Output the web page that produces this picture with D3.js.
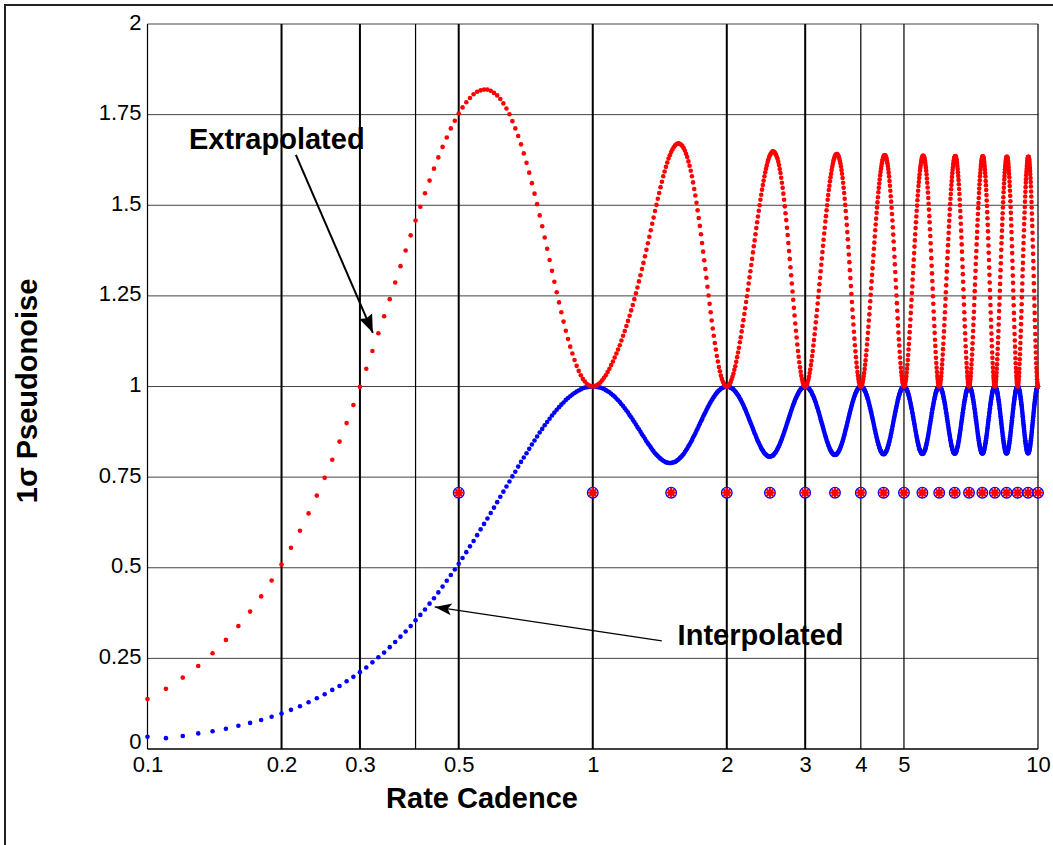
<!DOCTYPE html>
<html>
<head>
<meta charset="utf-8">
<script src="https://cdn.jsdelivr.net/npm/d3@7"></script>
<style>
  html, body { margin: 0; padding: 0; background: #fff; }
  svg { display: block; }
  text { font-family: "Liberation Sans", Arial, Helvetica, sans-serif; }
</style>
</head>
<body>
<svg id="chart" width="1053" height="845"></svg>
<script>
// ---- axis ticks ----
const yTicks = [0, 0.25, 0.5, 0.75, 1, 1.25, 1.5, 1.75, 2];
const yTickLabels = ["0", "0.25", "0.5", "0.75", "1", "1.25", "1.5", "1.75", "2"];
const xTicks = [0.1, 0.2, 0.3, 0.5, 1, 2, 3, 4, 5, 10];
const xTickLabels = ["0.1", "0.2", "0.3", "0.5", "1", "2", "3", "4", "5", "10"];
const xGridValues = [0.2, 0.3, 0.4, 0.5, 1, 2, 3, 4, 5, 10];

// ---- sampling of the rate cadence axis ----
const cadenceStep = 0.01;

// ---- interpolated pseudonoise, cadence 0.10 .. 0.99 ----
const interp_0_1 = [
  0.034, 0.030, 0.036, 0.043, 0.049, 0.056, 0.064, 0.072, 0.080, 0.089,
  0.098, 0.108, 0.118, 0.129, 0.140, 0.151, 0.163, 0.174, 0.187, 0.199,
  0.212, 0.225, 0.239, 0.253, 0.266, 0.281, 0.295, 0.310, 0.324, 0.339,
  0.355, 0.370, 0.385, 0.401, 0.416, 0.432, 0.448, 0.464, 0.480, 0.495,
  0.511, 0.527, 0.543, 0.559, 0.574, 0.590, 0.606, 0.621, 0.636, 0.651,
  0.666, 0.681, 0.696, 0.710, 0.724, 0.738, 0.752, 0.765, 0.779, 0.792,
  0.804, 0.816, 0.828, 0.840, 0.851, 0.862, 0.873, 0.883, 0.893, 0.902,
  0.911, 0.920, 0.928, 0.936, 0.943, 0.950, 0.956, 0.963, 0.968, 0.973,
  0.978, 0.982, 0.986, 0.989, 0.992, 0.995, 0.997, 0.998, 0.999, 1.000
];
// ---- extrapolated pseudonoise, cadence 0.10 .. 0.99 ----
const extrap_0_1 = [
  0.138, 0.166, 0.197, 0.229, 0.264, 0.301, 0.339, 0.379, 0.421, 0.465,
  0.509, 0.555, 0.602, 0.650, 0.699, 0.748, 0.798, 0.848, 0.899, 0.949,
  0.999, 1.049, 1.098, 1.147, 1.194, 1.241, 1.287, 1.332, 1.375, 1.417,
  1.458, 1.496, 1.533, 1.568, 1.601, 1.632, 1.661, 1.687, 1.712, 1.733,
  1.753, 1.770, 1.784, 1.796, 1.806, 1.813, 1.817, 1.819, 1.819, 1.816,
  1.810, 1.803, 1.793, 1.781, 1.767, 1.751, 1.732, 1.712, 1.691, 1.668,
  1.643, 1.617, 1.590, 1.561, 1.532, 1.503, 1.472, 1.442, 1.411, 1.380,
  1.349, 1.319, 1.289, 1.260, 1.232, 1.205, 1.179, 1.154, 1.131, 1.110,
  1.091, 1.073, 1.057, 1.043, 1.031, 1.021, 1.014, 1.007, 1.003, 1.001
];

// ---- cadence 1.00 .. 1.99 ----
const extrap_1_2 = [
  1.000, 1.001, 1.003, 1.007, 1.011, 1.017, 1.024, 1.031, 1.040, 1.049,
  1.059, 1.069, 1.080, 1.091, 1.102, 1.114, 1.127, 1.140, 1.153, 1.167,
  1.181, 1.195, 1.210, 1.225, 1.241, 1.257, 1.273, 1.290, 1.307, 1.324,
  1.341, 1.359, 1.377, 1.395, 1.413, 1.431, 1.449, 1.466, 1.484, 1.501,
  1.518, 1.534, 1.550, 1.565, 1.580, 1.593, 1.606, 1.618, 1.629, 1.638,
  1.647, 1.654, 1.660, 1.665, 1.668, 1.670, 1.671, 1.669, 1.667, 1.663,
  1.658, 1.651, 1.642, 1.633, 1.621, 1.609, 1.595, 1.580, 1.563, 1.545,
  1.527, 1.507, 1.486, 1.465, 1.443, 1.420, 1.396, 1.372, 1.348, 1.324,
  1.300, 1.275, 1.251, 1.228, 1.205, 1.182, 1.160, 1.140, 1.120, 1.102,
  1.084, 1.069, 1.054, 1.042, 1.030, 1.021, 1.013, 1.008, 1.003, 1.001
];
const interp_1_2 = [
  1.000, 1.000, 0.999, 0.998, 0.997, 0.995, 0.993, 0.990, 0.987, 0.984,
  0.980, 0.976, 0.972, 0.967, 0.962, 0.957, 0.951, 0.946, 0.940, 0.934,
  0.928, 0.921, 0.915, 0.908, 0.902, 0.895, 0.888, 0.882, 0.875, 0.868,
  0.862, 0.856, 0.849, 0.843, 0.838, 0.832, 0.826, 0.821, 0.816, 0.812,
  0.808, 0.804, 0.801, 0.798, 0.795, 0.793, 0.791, 0.790, 0.789, 0.789,
  0.789, 0.790, 0.791, 0.792, 0.794, 0.797, 0.799, 0.803, 0.806, 0.810,
  0.814, 0.819, 0.824, 0.829, 0.835, 0.840, 0.846, 0.852, 0.859, 0.865,
  0.871, 0.878, 0.884, 0.891, 0.897, 0.904, 0.910, 0.917, 0.923, 0.929,
  0.935, 0.941, 0.946, 0.952, 0.957, 0.962, 0.967, 0.971, 0.975, 0.979,
  0.983, 0.986, 0.989, 0.991, 0.994, 0.996, 0.997, 0.998, 0.999, 1.000
];

// ---- cadence 2.00 .. 2.99 ----
const extrap_2_3 = [
  1.000, 1.001, 1.003, 1.007, 1.012, 1.019, 1.027, 1.035, 1.046, 1.056,
  1.068, 1.081, 1.094, 1.107, 1.122, 1.136, 1.152, 1.167, 1.183, 1.200,
  1.216, 1.233, 1.249, 1.267, 1.284, 1.301, 1.318, 1.335, 1.352, 1.370,
  1.387, 1.403, 1.420, 1.437, 1.453, 1.469, 1.485, 1.500, 1.515, 1.529,
  1.543, 1.556, 1.568, 1.580, 1.591, 1.601, 1.610, 1.619, 1.626, 1.633,
  1.638, 1.642, 1.645, 1.648, 1.648, 1.648, 1.646, 1.643, 1.639, 1.634,
  1.628, 1.620, 1.611, 1.600, 1.589, 1.576, 1.562, 1.548, 1.532, 1.515,
  1.497, 1.478, 1.459, 1.438, 1.418, 1.396, 1.374, 1.352, 1.329, 1.307,
  1.284, 1.262, 1.239, 1.217, 1.196, 1.174, 1.154, 1.135, 1.116, 1.098,
  1.082, 1.067, 1.053, 1.041, 1.030, 1.021, 1.013, 1.008, 1.003, 1.001
];
const interp_2_3 = [
  1.000, 1.000, 0.999, 0.998, 0.997, 0.996, 0.994, 0.992, 0.989, 0.986,
  0.983, 0.979, 0.976, 0.972, 0.967, 0.963, 0.958, 0.953, 0.948, 0.942,
  0.937, 0.931, 0.925, 0.919, 0.913, 0.907, 0.901, 0.895, 0.889, 0.883,
  0.877, 0.871, 0.866, 0.860, 0.854, 0.849, 0.844, 0.839, 0.835, 0.830,
  0.826, 0.823, 0.819, 0.816, 0.814, 0.812, 0.810, 0.808, 0.807, 0.807,
  0.807, 0.807, 0.808, 0.809, 0.810, 0.812, 0.815, 0.817, 0.820, 0.824,
  0.828, 0.832, 0.836, 0.841, 0.846, 0.851, 0.856, 0.862, 0.867, 0.873,
  0.879, 0.885, 0.891, 0.897, 0.903, 0.909, 0.915, 0.921, 0.927, 0.933,
  0.938, 0.944, 0.949, 0.954, 0.959, 0.964, 0.968, 0.972, 0.976, 0.980,
  0.983, 0.987, 0.989, 0.992, 0.994, 0.996, 0.997, 0.999, 0.999, 1.000
];

// ---- cadence 3.00 .. 3.99 ----
const extrap_3_4 = [
  1.000, 1.001, 1.003, 1.007, 1.013, 1.019, 1.027, 1.037, 1.047, 1.059,
  1.071, 1.084, 1.098, 1.113, 1.128, 1.144, 1.160, 1.177, 1.194, 1.211,
  1.229, 1.247, 1.264, 1.282, 1.300, 1.318, 1.336, 1.353, 1.371, 1.388,
  1.405, 1.422, 1.438, 1.455, 1.470, 1.486, 1.500, 1.515, 1.528, 1.542,
  1.554, 1.566, 1.577, 1.587, 1.597, 1.606, 1.614, 1.621, 1.627, 1.632,
  1.636, 1.639, 1.640, 1.641, 1.641, 1.639, 1.637, 1.633, 1.628, 1.622,
  1.615, 1.607, 1.597, 1.587, 1.575, 1.562, 1.548, 1.534, 1.518, 1.501,
  1.484, 1.465, 1.446, 1.426, 1.406, 1.385, 1.364, 1.343, 1.321, 1.299,
  1.277, 1.255, 1.233, 1.212, 1.191, 1.171, 1.151, 1.132, 1.114, 1.097,
  1.081, 1.066, 1.053, 1.040, 1.030, 1.021, 1.013, 1.008, 1.003, 1.001
];
const interp_3_4 = [
  1.000, 1.000, 0.999, 0.999, 0.997, 0.996, 0.994, 0.992, 0.989, 0.987,
  0.984, 0.980, 0.976, 0.973, 0.968, 0.964, 0.959, 0.955, 0.949, 0.944,
  0.939, 0.933, 0.928, 0.922, 0.916, 0.910, 0.904, 0.898, 0.893, 0.887,
  0.881, 0.875, 0.869, 0.864, 0.859, 0.853, 0.848, 0.844, 0.839, 0.835,
  0.831, 0.827, 0.824, 0.821, 0.819, 0.816, 0.815, 0.813, 0.812, 0.812,
  0.811, 0.812, 0.812, 0.813, 0.815, 0.817, 0.819, 0.822, 0.825, 0.828,
  0.832, 0.836, 0.840, 0.844, 0.849, 0.854, 0.859, 0.865, 0.870, 0.876,
  0.882, 0.887, 0.893, 0.899, 0.905, 0.911, 0.917, 0.923, 0.928, 0.934,
  0.939, 0.945, 0.950, 0.955, 0.960, 0.964, 0.969, 0.973, 0.977, 0.980,
  0.984, 0.987, 0.989, 0.992, 0.994, 0.996, 0.997, 0.999, 0.999, 1.000
];

// ---- cadence 4.00 .. 4.99 ----
const extrap_4_5 = [
  1.000, 1.001, 1.003, 1.007, 1.013, 1.020, 1.028, 1.037, 1.048, 1.060,
  1.072, 1.086, 1.100, 1.116, 1.131, 1.148, 1.165, 1.182, 1.199, 1.217,
  1.235, 1.253, 1.271, 1.290, 1.308, 1.326, 1.344, 1.362, 1.380, 1.397,
  1.414, 1.431, 1.447, 1.463, 1.479, 1.494, 1.508, 1.522, 1.536, 1.548,
  1.560, 1.571, 1.582, 1.592, 1.601, 1.608, 1.616, 1.622, 1.627, 1.631,
  1.635, 1.637, 1.638, 1.638, 1.637, 1.635, 1.632, 1.628, 1.622, 1.616,
  1.608, 1.600, 1.590, 1.579, 1.567, 1.554, 1.540, 1.525, 1.510, 1.493,
  1.476, 1.458, 1.439, 1.419, 1.400, 1.379, 1.358, 1.337, 1.316, 1.294,
  1.273, 1.251, 1.230, 1.209, 1.188, 1.168, 1.149, 1.130, 1.113, 1.096,
  1.080, 1.065, 1.052, 1.040, 1.030, 1.021, 1.013, 1.008, 1.003, 1.001
];
const interp_4_5 = [
  1.000, 1.000, 0.999, 0.999, 0.997, 0.996, 0.994, 0.992, 0.990, 0.987,
  0.984, 0.980, 0.977, 0.973, 0.969, 0.965, 0.960, 0.955, 0.950, 0.945,
  0.940, 0.934, 0.929, 0.923, 0.917, 0.912, 0.906, 0.900, 0.894, 0.888,
  0.882, 0.877, 0.871, 0.866, 0.860, 0.855, 0.850, 0.846, 0.841, 0.837,
  0.833, 0.830, 0.826, 0.823, 0.821, 0.819, 0.817, 0.815, 0.814, 0.814,
  0.813, 0.814, 0.814, 0.815, 0.817, 0.819, 0.821, 0.823, 0.826, 0.830,
  0.833, 0.837, 0.841, 0.846, 0.850, 0.855, 0.860, 0.866, 0.871, 0.877,
  0.882, 0.888, 0.894, 0.900, 0.906, 0.912, 0.917, 0.923, 0.929, 0.934,
  0.940, 0.945, 0.950, 0.955, 0.960, 0.965, 0.969, 0.973, 0.977, 0.980,
  0.984, 0.987, 0.990, 0.992, 0.994, 0.996, 0.997, 0.999, 0.999, 1.000
];

// ---- cadence 5.00 .. 5.99 ----
const extrap_5_6 = [
  1.000, 1.001, 1.003, 1.007, 1.013, 1.020, 1.028, 1.038, 1.049, 1.060,
  1.073, 1.087, 1.102, 1.117, 1.133, 1.150, 1.167, 1.185, 1.203, 1.221,
  1.239, 1.258, 1.276, 1.295, 1.313, 1.332, 1.350, 1.368, 1.386, 1.403,
  1.420, 1.437, 1.453, 1.469, 1.485, 1.499, 1.514, 1.527, 1.540, 1.553,
  1.564, 1.575, 1.585, 1.595, 1.603, 1.610, 1.617, 1.623, 1.628, 1.631,
  1.634, 1.636, 1.637, 1.636, 1.635, 1.632, 1.629, 1.624, 1.618, 1.611,
  1.604, 1.595, 1.585, 1.574, 1.562, 1.549, 1.535, 1.520, 1.504, 1.488,
  1.470, 1.453, 1.434, 1.415, 1.395, 1.375, 1.354, 1.333, 1.312, 1.291,
  1.270, 1.249, 1.228, 1.207, 1.187, 1.167, 1.148, 1.129, 1.112, 1.095,
  1.079, 1.065, 1.052, 1.040, 1.029, 1.021, 1.013, 1.008, 1.003, 1.001
];
const interp_5_6 = [
  1.000, 1.000, 0.999, 0.999, 0.997, 0.996, 0.994, 0.992, 0.990, 0.987,
  0.984, 0.981, 0.977, 0.973, 0.969, 0.965, 0.960, 0.955, 0.950, 0.945,
  0.940, 0.935, 0.929, 0.924, 0.918, 0.912, 0.906, 0.900, 0.895, 0.889,
  0.883, 0.877, 0.872, 0.866, 0.861, 0.856, 0.851, 0.846, 0.842, 0.838,
  0.834, 0.830, 0.827, 0.824, 0.822, 0.820, 0.818, 0.816, 0.815, 0.815,
  0.814, 0.815, 0.815, 0.816, 0.818, 0.820, 0.822, 0.824, 0.827, 0.830,
  0.834, 0.838, 0.842, 0.846, 0.851, 0.856, 0.861, 0.866, 0.872, 0.877,
  0.883, 0.889, 0.895, 0.900, 0.906, 0.912, 0.918, 0.924, 0.929, 0.935,
  0.940, 0.945, 0.950, 0.955, 0.960, 0.965, 0.969, 0.973, 0.977, 0.981,
  0.984, 0.987, 0.990, 0.992, 0.994, 0.996, 0.997, 0.999, 0.999, 1.000
];

// ---- cadence 6.00 .. 6.99 ----
const extrap_6_7 = [
  1.000, 1.001, 1.003, 1.007, 1.013, 1.020, 1.028, 1.038, 1.049, 1.061,
  1.074, 1.088, 1.103, 1.118, 1.135, 1.152, 1.169, 1.187, 1.205, 1.223,
  1.242, 1.260, 1.279, 1.298, 1.317, 1.335, 1.354, 1.372, 1.390, 1.407,
  1.424, 1.441, 1.457, 1.473, 1.489, 1.503, 1.518, 1.531, 1.544, 1.556,
  1.567, 1.578, 1.588, 1.597, 1.605, 1.612, 1.618, 1.624, 1.628, 1.631,
  1.634, 1.635, 1.636, 1.635, 1.633, 1.630, 1.626, 1.621, 1.615, 1.608,
  1.600, 1.591, 1.581, 1.570, 1.558, 1.545, 1.531, 1.516, 1.500, 1.484,
  1.467, 1.449, 1.430, 1.411, 1.392, 1.372, 1.351, 1.330, 1.310, 1.289,
  1.268, 1.247, 1.226, 1.205, 1.185, 1.166, 1.147, 1.129, 1.111, 1.095,
  1.079, 1.065, 1.052, 1.040, 1.029, 1.021, 1.013, 1.008, 1.003, 1.001
];
const interp_6_7 = [
  1.000, 1.000, 0.999, 0.999, 0.997, 0.996, 0.994, 0.992, 0.990, 0.987,
  0.984, 0.981, 0.977, 0.973, 0.969, 0.965, 0.960, 0.956, 0.951, 0.946,
  0.940, 0.935, 0.929, 0.924, 0.918, 0.912, 0.906, 0.901, 0.895, 0.889,
  0.883, 0.878, 0.872, 0.867, 0.862, 0.856, 0.852, 0.847, 0.843, 0.838,
  0.835, 0.831, 0.828, 0.825, 0.822, 0.820, 0.818, 0.817, 0.816, 0.815,
  0.815, 0.815, 0.816, 0.817, 0.818, 0.820, 0.822, 0.825, 0.828, 0.831,
  0.835, 0.838, 0.843, 0.847, 0.852, 0.856, 0.862, 0.867, 0.872, 0.878,
  0.883, 0.889, 0.895, 0.901, 0.906, 0.912, 0.918, 0.924, 0.929, 0.935,
  0.940, 0.946, 0.951, 0.956, 0.960, 0.965, 0.969, 0.973, 0.977, 0.981,
  0.984, 0.987, 0.990, 0.992, 0.994, 0.996, 0.997, 0.999, 0.999, 1.000
];

// ---- cadence 7.00 .. 7.99 ----
const extrap_7_8 = [
  1.000, 1.001, 1.003, 1.007, 1.013, 1.020, 1.028, 1.038, 1.049, 1.061,
  1.074, 1.088, 1.103, 1.119, 1.136, 1.153, 1.170, 1.188, 1.206, 1.225,
  1.244, 1.263, 1.281, 1.300, 1.319, 1.338, 1.356, 1.374, 1.392, 1.410,
  1.427, 1.444, 1.460, 1.476, 1.492, 1.506, 1.520, 1.534, 1.546, 1.558,
  1.569, 1.580, 1.589, 1.598, 1.606, 1.613, 1.619, 1.624, 1.628, 1.631,
  1.634, 1.635, 1.635, 1.634, 1.632, 1.629, 1.625, 1.620, 1.614, 1.606,
  1.598, 1.589, 1.579, 1.567, 1.555, 1.542, 1.528, 1.513, 1.498, 1.481,
  1.464, 1.446, 1.428, 1.409, 1.389, 1.369, 1.349, 1.328, 1.308, 1.287,
  1.266, 1.245, 1.225, 1.204, 1.184, 1.165, 1.146, 1.128, 1.111, 1.094,
  1.079, 1.065, 1.052, 1.040, 1.029, 1.021, 1.013, 1.008, 1.003, 1.001
];
const interp_7_8 = [
  1.000, 1.000, 0.999, 0.999, 0.997, 0.996, 0.994, 0.992, 0.990, 0.987,
  0.984, 0.981, 0.977, 0.973, 0.969, 0.965, 0.960, 0.956, 0.951, 0.946,
  0.940, 0.935, 0.929, 0.924, 0.918, 0.912, 0.907, 0.901, 0.895, 0.889,
  0.884, 0.878, 0.872, 0.867, 0.862, 0.857, 0.852, 0.847, 0.843, 0.839,
  0.835, 0.831, 0.828, 0.825, 0.823, 0.820, 0.819, 0.817, 0.816, 0.816,
  0.815, 0.816, 0.816, 0.817, 0.819, 0.820, 0.823, 0.825, 0.828, 0.831,
  0.835, 0.839, 0.843, 0.847, 0.852, 0.857, 0.862, 0.867, 0.872, 0.878,
  0.884, 0.889, 0.895, 0.901, 0.907, 0.912, 0.918, 0.924, 0.929, 0.935,
  0.940, 0.946, 0.951, 0.956, 0.960, 0.965, 0.969, 0.973, 0.977, 0.981,
  0.984, 0.987, 0.990, 0.992, 0.994, 0.996, 0.997, 0.999, 0.999, 1.000
];

// ---- cadence 8.00 .. 8.99 ----
const extrap_8_9 = [
  1.000, 1.001, 1.003, 1.007, 1.013, 1.020, 1.028, 1.038, 1.049, 1.061,
  1.075, 1.089, 1.104, 1.120, 1.136, 1.153, 1.171, 1.189, 1.208, 1.226,
  1.245, 1.264, 1.283, 1.302, 1.321, 1.340, 1.358, 1.377, 1.395, 1.412,
  1.430, 1.446, 1.463, 1.478, 1.494, 1.508, 1.522, 1.536, 1.548, 1.560,
  1.571, 1.581, 1.591, 1.599, 1.607, 1.614, 1.620, 1.625, 1.629, 1.632,
  1.633, 1.634, 1.634, 1.633, 1.631, 1.628, 1.624, 1.618, 1.612, 1.605,
  1.596, 1.587, 1.577, 1.565, 1.553, 1.540, 1.526, 1.511, 1.495, 1.479,
  1.462, 1.444, 1.426, 1.407, 1.387, 1.368, 1.347, 1.327, 1.306, 1.286,
  1.265, 1.244, 1.224, 1.203, 1.184, 1.164, 1.145, 1.127, 1.110, 1.094,
  1.078, 1.064, 1.051, 1.040, 1.029, 1.021, 1.013, 1.008, 1.003, 1.001
];
const interp_8_9 = [
  1.000, 1.000, 0.999, 0.999, 0.997, 0.996, 0.994, 0.992, 0.990, 0.987,
  0.984, 0.981, 0.977, 0.973, 0.969, 0.965, 0.960, 0.956, 0.951, 0.946,
  0.940, 0.935, 0.930, 0.924, 0.918, 0.913, 0.907, 0.901, 0.895, 0.889,
  0.884, 0.878, 0.873, 0.867, 0.862, 0.857, 0.852, 0.847, 0.843, 0.839,
  0.835, 0.832, 0.828, 0.825, 0.823, 0.821, 0.819, 0.818, 0.816, 0.816,
  0.816, 0.816, 0.816, 0.818, 0.819, 0.821, 0.823, 0.825, 0.828, 0.832,
  0.835, 0.839, 0.843, 0.847, 0.852, 0.857, 0.862, 0.867, 0.873, 0.878,
  0.884, 0.889, 0.895, 0.901, 0.907, 0.913, 0.918, 0.924, 0.930, 0.935,
  0.940, 0.946, 0.951, 0.956, 0.960, 0.965, 0.969, 0.973, 0.977, 0.981,
  0.984, 0.987, 0.990, 0.992, 0.994, 0.996, 0.997, 0.999, 0.999, 1.000
];

// ---- cadence 9.00 .. 10.00 ----
const extrap_9_10 = [
  1.000, 1.001, 1.003, 1.007, 1.013, 1.020, 1.028, 1.038, 1.049, 1.062,
  1.075, 1.089, 1.104, 1.120, 1.137, 1.154, 1.172, 1.190, 1.208, 1.227,
  1.246, 1.265, 1.284, 1.304, 1.323, 1.341, 1.360, 1.378, 1.396, 1.414,
  1.431, 1.448, 1.464, 1.480, 1.495, 1.510, 1.524, 1.537, 1.550, 1.562,
  1.572, 1.583, 1.592, 1.600, 1.608, 1.614, 1.620, 1.625, 1.629, 1.632,
  1.633, 1.634, 1.634, 1.633, 1.630, 1.627, 1.623, 1.617, 1.611, 1.603,
  1.595, 1.586, 1.575, 1.564, 1.552, 1.538, 1.524, 1.509, 1.494, 1.477,
  1.460, 1.443, 1.424, 1.405, 1.386, 1.366, 1.346, 1.326, 1.305, 1.285,
  1.264, 1.243, 1.223, 1.203, 1.183, 1.164, 1.145, 1.127, 1.110, 1.094,
  1.078, 1.064, 1.051, 1.040, 1.029, 1.020, 1.013, 1.008, 1.003, 1.001,
  1.000
];
const interp_9_10 = [
  1.000, 1.000, 0.999, 0.999, 0.997, 0.996, 0.994, 0.992, 0.990, 0.987,
  0.984, 0.981, 0.977, 0.973, 0.969, 0.965, 0.960, 0.956, 0.951, 0.946,
  0.941, 0.935, 0.930, 0.924, 0.918, 0.913, 0.907, 0.901, 0.895, 0.890,
  0.884, 0.878, 0.873, 0.867, 0.862, 0.857, 0.852, 0.848, 0.843, 0.839,
  0.835, 0.832, 0.828, 0.826, 0.823, 0.821, 0.819, 0.818, 0.817, 0.816,
  0.816, 0.816, 0.817, 0.818, 0.819, 0.821, 0.823, 0.826, 0.828, 0.832,
  0.835, 0.839, 0.843, 0.848, 0.852, 0.857, 0.862, 0.867, 0.873, 0.878,
  0.884, 0.890, 0.895, 0.901, 0.907, 0.913, 0.918, 0.924, 0.930, 0.935,
  0.941, 0.946, 0.951, 0.956, 0.960, 0.965, 0.969, 0.973, 0.977, 0.981,
  0.984, 0.987, 0.990, 0.992, 0.994, 0.996, 0.997, 0.999, 0.999, 1.000,
  1.000
];

// ---- half-cycle reference markers ----
const markerCadence = [0.5, 1, 1.5, 2, 2.5, 3, 3.5, 4, 4.5, 5, 5.5, 6, 6.5, 7, 7.5, 8, 8.5, 9, 9.5, 10];
const markerLevel = [0.707, 0.707, 0.707, 0.707, 0.707, 0.707, 0.707, 0.707, 0.707, 0.707,
                     0.707, 0.707, 0.707, 0.707, 0.707, 0.707, 0.707, 0.707, 0.707, 0.707];

// segment start cadence paired with its samples
const extrapSegments = [[0.1, extrap_0_1], [1, extrap_1_2], [2, extrap_2_3], [3, extrap_3_4], [4, extrap_4_5],
                        [5, extrap_5_6], [6, extrap_6_7], [7, extrap_7_8], [8, extrap_8_9], [9, extrap_9_10]];
const interpSegments = [[0.1, interp_0_1], [1, interp_1_2], [2, interp_2_3], [3, interp_3_4], [4, interp_4_5],
                        [5, interp_5_6], [6, interp_6_7], [7, interp_7_8], [8, interp_8_9], [9, interp_9_10]];

function toPoints(segments) {
  const pts = [];
  segments.forEach(([start, vals]) => {
    vals.forEach((v, i) => pts.push({ c: Math.round((start + i * cadenceStep) * 100) / 100, v }));
  });
  return pts;
}
const extrapPoints = toPoints(extrapSegments);
const interpPoints = toPoints(interpSegments);

// ---- layout ----
const W = 1053, H = 845;
const plot = { left: 147.5, right: 1038, top: 24, bottom: 749 };
const x = d3.scaleLog().domain([0.1, 10]).range([plot.left, plot.right]);
const y = d3.scaleLinear().domain([0, 2]).range([plot.bottom, plot.top]);

const svg = d3.select("#chart");
svg.append("rect").attr("width", W).attr("height", H).attr("fill", "#fff");

// figure frame (left and top edges)
svg.append("path").attr("d", "M5,845V5H1053").attr("fill", "none")
  .attr("stroke", "#222").attr("stroke-width", 2);

// horizontal grid
svg.append("g").selectAll("line").data(yTicks.filter(d => d > 0)).join("line")
  .attr("x1", plot.left).attr("x2", plot.right)
  .attr("y1", d => y(d)).attr("y2", d => y(d))
  .attr("stroke", "#444").attr("stroke-width", 1);

// vertical grid
const thinGrid = new Set([0.4, 4, 5, 10]);
svg.append("g").selectAll("line").data(xGridValues).join("line")
  .attr("x1", d => x(d)).attr("x2", d => x(d))
  .attr("y1", plot.top).attr("y2", plot.bottom)
  .attr("stroke", "#000")
  .attr("stroke-width", d => thinGrid.has(d) ? 1.2 : 2);

// axis lines
svg.append("line").attr("x1", plot.left).attr("x2", plot.left).attr("y1", plot.top).attr("y2", plot.bottom)
  .attr("stroke", "#000").attr("stroke-width", 1.2);
svg.append("line").attr("x1", plot.left).attr("x2", plot.right).attr("y1", plot.bottom).attr("y2", plot.bottom)
  .attr("stroke", "#000").attr("stroke-width", 1.5);

// interpolated series
svg.append("g").selectAll("circle").data(interpPoints).join("circle")
  .attr("cx", d => x(d.c)).attr("cy", d => y(d.v)).attr("r", 2.3).attr("fill", "#0000ff");

// extrapolated series
svg.append("g").selectAll("circle").data(extrapPoints).join("circle")
  .attr("cx", d => x(d.c)).attr("cy", d => y(d.v)).attr("r", 2.3).attr("fill", "#ff0000");

// half-cycle markers: blue ring with red asterisk
const markers = svg.append("g").selectAll("g").data(markerCadence.map((c, i) => ({ c, v: markerLevel[i] })))
  .join("g").attr("transform", d => `translate(${x(d.c)},${y(d.v)})`);
markers.append("circle").attr("r", 5.3).attr("fill", "none").attr("stroke", "#0000ff").attr("stroke-width", 1.3);
markers.append("path")
  .attr("d", "M-4,0H4M0,-4V4M-2.9,-2.9L2.9,2.9M-2.9,2.9L2.9,-2.9")
  .attr("stroke", "#ff0000").attr("stroke-width", 2.2).attr("stroke-linecap", "round");

// y axis labels
const yAxis = svg.append("g").attr("transform", `translate(${plot.left},0)`)
  .call(d3.axisLeft(y).tickValues(yTicks).tickFormat((d, i) => yTickLabels[i]).tickSize(0).tickPadding(6));
yAxis.select(".domain").remove();
yAxis.selectAll("text")
  .attr("font-family", '"Liberation Sans", Arial, Helvetica, sans-serif')
  .attr("font-size", 22).attr("fill", "#000")
  .attr("dy", null).attr("y", d => d === 0 ? -1 : 5);

// x axis labels
const xAxis = svg.append("g").attr("transform", `translate(0,${plot.bottom})`)
  .call(d3.axisBottom(x).tickValues(xTicks).tickFormat((d, i) => xTickLabels[i]).tickSize(0).tickPadding(7));
xAxis.select(".domain").remove();
xAxis.selectAll("text")
  .attr("font-family", '"Liberation Sans", Arial, Helvetica, sans-serif')
  .attr("font-size", 22).attr("fill", "#000")
  .attr("dy", null).attr("y", 23);

// axis titles
svg.append("text").attr("x", 482).attr("y", 808).attr("text-anchor", "middle")
  .attr("font-size", 29).attr("font-weight", "bold").text("Rate Cadence");
svg.append("text").attr("transform", "translate(37,391) rotate(-90)").attr("text-anchor", "middle")
  .attr("font-size", 29).attr("font-weight", "bold").text("1σ Pseudonoise");

// annotations
function arrowHead(g, x0, y0, x1, y1, len, half, notch, fill) {
  const a = Math.atan2(y1 - y0, x1 - x0);
  const ux = Math.cos(a), uy = Math.sin(a);
  const bx = x1 - ux * len, by = y1 - uy * len;
  const nx = x1 - ux * notch, ny = y1 - uy * notch;
  const p = [[x1, y1], [bx - uy * half, by + ux * half], [nx, ny], [bx + uy * half, by - ux * half]];
  g.append("path").attr("d", "M" + p.map(q => q.join(",")).join("L") + "Z").attr("fill", fill);
}
const ann = svg.append("g");
ann.append("text").attr("x", x(0.1239)).attr("y", y(1.655))
  .attr("font-size", 29).attr("font-weight", "bold").text("Extrapolated");
{
  const x0 = x(0.2154), y0 = y(1.639), x1 = x(0.3207), y1 = y(1.148);
  ann.append("line").attr("x1", x0).attr("y1", y0).attr("x2", x1).attr("y2", y1)
    .attr("stroke", "#000").attr("stroke-width", 2);
  arrowHead(ann, x0, y0, x1, y1, 18, 7, 16, "#000");
}
ann.append("text").attr("x", x(1.551)).attr("y", y(0.287))
  .attr("font-size", 29).attr("font-weight", "bold").text("Interpolated");
{
  const x0 = x(1.429), y0 = y(0.298), x1 = x(0.4417), y1 = y(0.392);
  ann.append("line").attr("x1", x0).attr("y1", y0).attr("x2", x1).attr("y2", y1)
    .attr("stroke", "#000").attr("stroke-width", 1.3);
  arrowHead(ann, x0, y0, x1, y1, 17, 6, 13, "#000");
}
</script>
</body>
</html>
